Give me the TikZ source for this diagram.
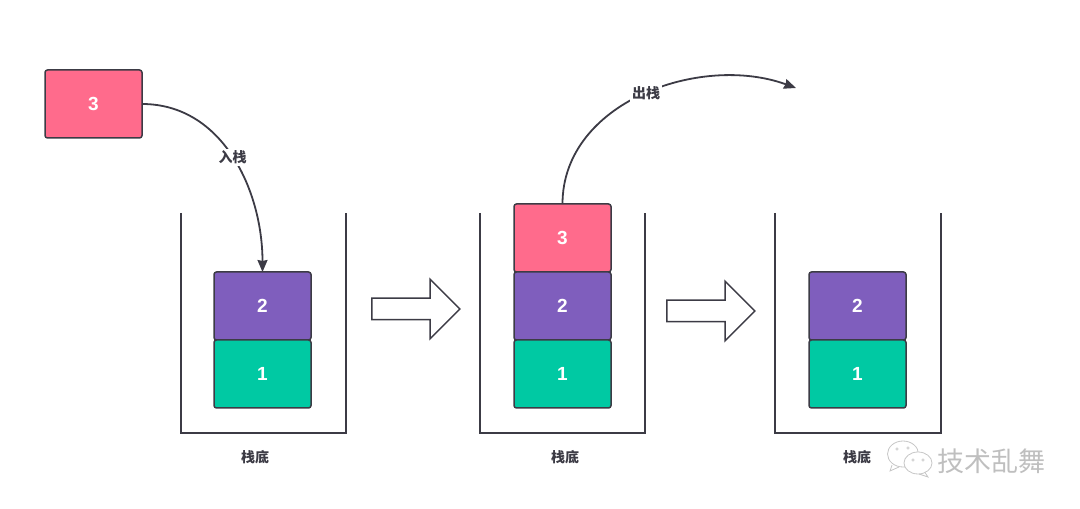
\documentclass[tikz,border=0pt]{standalone}
\usepackage{fontspec}
\setmainfont{Liberation Sans}
\newfontfamily\cjk{Noto Sans CJK SC}
\usepackage{tikz}
\usetikzlibrary{arrows.meta,shapes.arrows,shapes.geometric,positioning}
\definecolor{pinkbox}{HTML}{FF6B8C}
\definecolor{purplebox}{HTML}{7F5EBD}
\definecolor{greenbox}{HTML}{00C9A3}
\definecolor{edge}{HTML}{3C3B45}
\tikzstyle{plate} = [rectangle, rounded corners=2.5pt, minimum width=97pt, minimum height=68pt, text centered, draw=edge, line width=1.5pt, outer sep=0pt, inner sep=0pt, text=white, font=\fontsize{19}{20}\selectfont\bfseries]
\tikzstyle{arrow} = [line width=1.8pt, draw=edge, -{Stealth[length=12pt,width=10pt,inset=1pt]}]
\tikzstyle{wall} = [line width=1.5pt, draw=edge]
\tikzstyle{step arrow} = [single arrow, draw=edge, line width=1.5pt, fill=white, minimum height=88pt, minimum width=58pt, single arrow head extend=19pt, inner sep=0pt, text width=0pt, text height=10pt, text depth=10pt, outer sep=0pt]
\tikzstyle{tag} = [fill=white, inner sep=2pt, text=edge, font=\cjk\fontsize{14}{16}\selectfont\bfseries]
\tikzstyle{mark line} = [draw=gray!45, line width=0.8pt, fill=white]
\tikzstyle{mark eye} = [circle, draw=gray!45, line width=0.5pt, minimum size=2.5pt, inner sep=0pt]
\begin{document}
\begin{tikzpicture}[x=1pt, y=1pt, node distance=68pt]
    \useasboundingbox (0,0) rectangle (1080,509);
    % stacks
    \draw [wall] (181,296) -- (181,76) -- (346,76) -- (346,296);
    \draw [wall] (480,296) -- (480,76) -- (645,76) -- (645,296);
    \draw [wall] (775,296) -- (775,76) -- (941,76) -- (941,296);
    % boxes
    \node (Push) [plate, fill=pinkbox] at (93.5,405) {3};
    \node (TwoA) [plate, fill=purplebox] at (262.5,203) {2};
    \node (OneA) [plate, fill=greenbox, below of=TwoA] {1};
    \node (ThreeB) [plate, fill=pinkbox] at (562.5,271) {3};
    \node (TwoB) [plate, fill=purplebox, below of=ThreeB] {2};
    \node (OneB) [plate, fill=greenbox, below of=TwoB] {1};
    \node (TwoC) [plate, fill=purplebox] at (857.5,203) {2};
    \node (OneC) [plate, fill=greenbox, below of=TwoC] {1};
    % captions
    \node (BaseA) [tag] at (255,52) {栈底};
    \node (BaseB) [tag] at (565,52) {栈底};
    \node (BaseC) [tag] at (857,52) {栈底};
    % hollow arrows
    \node (StepA) [step arrow] at (410.5,200) {};
    \node (StepB) [step arrow] at (705.5,198) {};
    % curved arrows
    \coordinate (Out) at (796,421);
    \draw [arrow] (Push.east) to [out=0, in=90] node [tag] {入栈} (TwoA.north);
    \draw [arrow] (ThreeB.north) to [out=90, in=160] node [tag, pos=.51] {出栈} (Out);
    % watermark
    \draw [mark line] (892,44) -- (890,38) -- (899,42);
    \node (Wechat) [ellipse, mark line, minimum width=31pt, minimum height=26pt, inner sep=0pt] at (903,55) {};
    \draw [mark line] (924,38) -- (928,32) -- (919,35);
    \node (WechatB) [ellipse, mark line, minimum width=28pt, minimum height=22pt, inner sep=0pt] at (918,46) {};
    \node (EyeA) [mark eye] at (897,60) {};
    \node (EyeB) [mark eye] at (908,61) {};
    \node (EyeC) [mark eye] at (913,49) {};
    \node (EyeD) [mark eye] at (923,49) {};
    \node (Mark) [text=gray!50, font=\cjk\fontsize{27}{29}\selectfont] at (991.5,48) {技术乱舞};
\end{tikzpicture}
\end{document}
